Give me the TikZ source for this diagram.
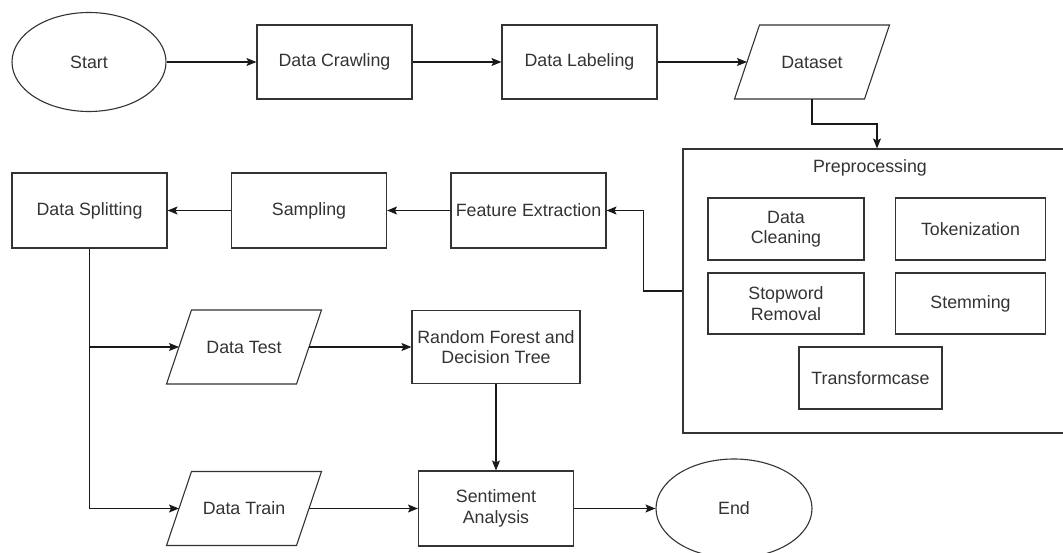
\documentclass[tikz,border=0pt]{standalone}
\usepackage{fontspec}
\setmainfont{Liberation Sans}
\usepackage{tikz}
\usetikzlibrary{shapes.geometric,arrows.meta}

\begin{document}
\begin{tikzpicture}[x=1pt,y=-1pt,
		>={Stealth[length=10pt,width=8pt,inset=2pt]},
		line width=1.1pt,
		box/.style={draw=black!80,rectangle,minimum width=155pt,minimum height=74pt,inner sep=2pt,align=center,font=\fontsize{17.8}{20.5}\selectfont,text=black!80},
		iobox/.style={box,draw=none,outer sep=0pt,minimum width=130pt},
		term/.style={box,ellipse,minimum width=154pt,minimum height=99pt},
		link/.style={->,draw=black!90}]
	\clip (0,0) rectangle (1063,553);

		% top row
		\node[term] (START) at (89,62) {Start};
		\node[box] (CRAWL) at (334.5,62) {Data Crawling};
		\node[box] (LABEL) at (579.5,62) {Data Labeling};
		\node[iobox] (DATASET) at (812,62) {Dataset};

		% preprocessing block
		\node[box,minimum width=388pt,minimum height=284pt] (PREP) at (877,291) {};
		\node[font=\fontsize{17.8}{20.5}\selectfont,text=black!80] (PREPTITLE) at (870,168) {Preprocessing};
		\node[box,minimum width=156pt,minimum height=62pt] (CLEAN) at (786,229) {Data\\Cleaning};
		\node[box,minimum width=150pt,minimum height=62pt] (TOKEN) at (970.5,229) {Tokenization};
		\node[box,minimum width=156pt,minimum height=61pt] (STOP) at (786,303.5) {Stopword\\Removal};
		\node[box,minimum width=150pt,minimum height=61pt] (STEM) at (970.5,303.5) {Stemming};
		\node[box,minimum width=143pt,minimum height=62pt] (TRANS) at (870.5,378) {Transformcase};

		% second row
		\node[box,minimum height=75pt] (FEAT) at (528.5,210.5) {Feature Extraction};
		\node[box,minimum height=75pt] (SAMP) at (309,210.5) {Sampling};
		\node[box,minimum height=75pt] (SPLIT) at (89.5,210.5) {Data Splitting};

		% classification
		\node[iobox] (TEST) at (244,347) {Data Test};
		\node[box,minimum width=168pt,minimum height=73pt] (RF) at (496,347) {Random Forest and\\Decision Tree};
		\node[iobox] (TRAIN) at (244,508.5) {Data Train};
		\node[box,minimum height=75pt] (SENT) at (496,508.5) {Sentiment\\Analysis};
		\node[term,minimum width=156pt] (END) at (734,508.5) {End};

		\foreach \n in {DATASET,TEST,TRAIN}
			\draw[black!80] ([xshift=12.5pt]\n.north west) -- ([xshift=12.5pt]\n.north east) -- ([xshift=-12.5pt]\n.south east) -- ([xshift=-12.5pt]\n.south west) -- cycle;

	\draw[link] (START) -- (CRAWL);
	\draw[link] (CRAWL) -- (LABEL);
	\draw[link] (LABEL) -- (DATASET);
	\draw[link] (DATASET.south) -- ++(0,25) -| (PREP.north);
	\draw[link] (PREP.west) -- ++(-39,0) |- (FEAT.east);
	\draw[link] (FEAT) -- (SAMP);
	\draw[link] (SAMP) -- (SPLIT);
	\draw[link] (SPLIT.south) |- (TRAIN.west);
	\draw[link] (SPLIT.south |- TEST.west) -- (TEST.west);
	\draw[link] (TEST) -- (RF);
	\draw[link] (RF) -- (SENT);
	\draw[link] (TRAIN) -- (SENT);
	\draw[link] (SENT) -- (END);

\end{tikzpicture}
\end{document}
